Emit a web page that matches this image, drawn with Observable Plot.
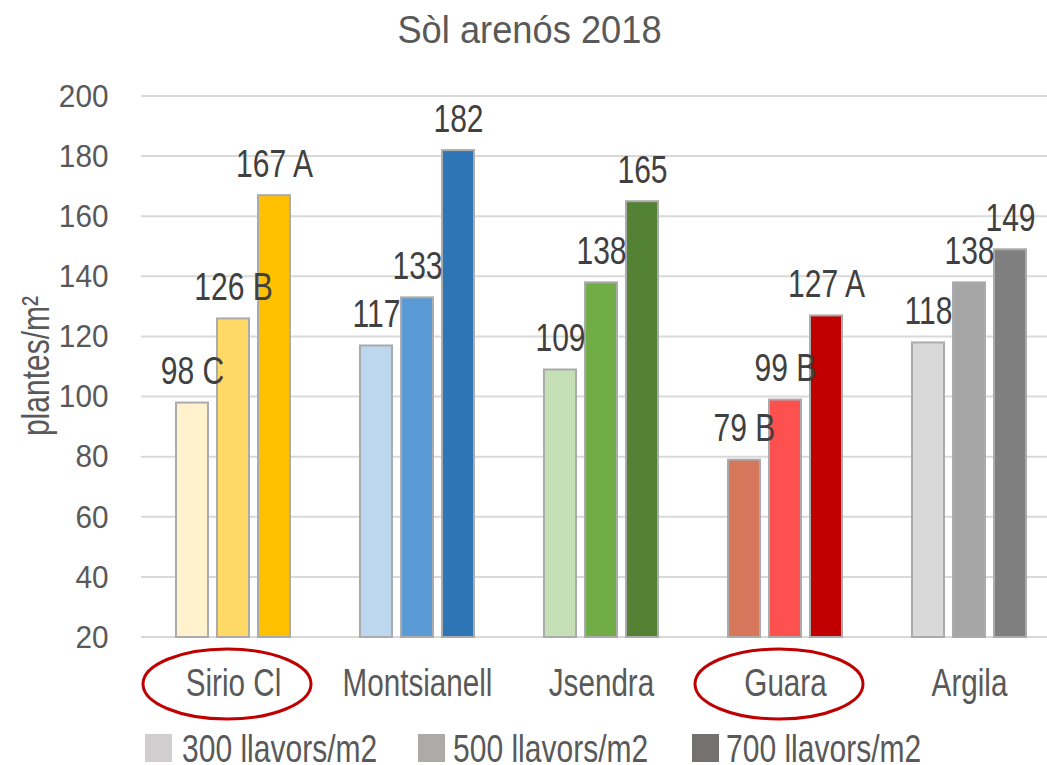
<!DOCTYPE html>
<html>
<head>
<meta charset="utf-8">
<script src="https://cdn.jsdelivr.net/npm/d3@7"></script>
<script src="https://cdn.jsdelivr.net/npm/@observablehq/plot@0.6"></script>
<style>
  html, body { margin: 0; padding: 0; background: #fff; }
  #wrap { position: relative; width: 1047px; height: 765px; overflow: hidden; font-family: "Liberation Sans", Arial, sans-serif; }
  #title { position: absolute; left: 6px; width: 1047px; top: 10px; text-align: center; font-size: 39px; color: #595959; line-height: 39px; transform: scaleX(0.93); transform-origin: center; white-space: nowrap; }
  #ylabel { position: absolute; left: 35px; top: 366px; font-size: 39px; line-height: 39px; color: #595959; white-space: nowrap; transform: translate(-50%, -50%) rotate(-90deg) scaleX(0.77); transform-origin: center; }
  #legend { position: absolute; top: 0; left: 0; width: 1047px; height: 765px; }
  .sw { position: absolute; top: 734px; width: 27px; height: 28px; }
  .lt { position: absolute; top: 729px; font-size: 39px; line-height: 39px; color: #595959; white-space: nowrap; transform: scaleX(0.77); transform-origin: left center; }
  #chart { position: absolute; left: 0; top: 0; }
</style>
</head>
<body>
<div id="wrap">
  <div id="chart"></div>
  <div id="title"></div>
  <div id="ylabel"></div>
  <div id="legend"></div>
</div>
<script>
const chartTitle = "Sòl arenós 2018";
const yLabel = "plantes/m²";
const varieties = ["Sirio Cl", "Montsianell", "Jsendra", "Guara", "Argila"];
const densities = ["300", "500", "700"];
const legendLabels = ["300 llavors/m2", "500 llavors/m2", "700 llavors/m2"];
const values300 = [98, 117, 109, 79, 118];
const values500 = [126, 133, 138, 99, 138];
const values700 = [167, 182, 165, 127, 149];
const letters300 = ["C", "", "", "B", ""];
const letters500 = ["B", "", "", "B", ""];
const letters700 = ["A", "", "", "A", ""];
const yTicks = [20, 40, 60, 80, 100, 120, 140, 160, 180, 200];
const highlighted = ["Sirio Cl", "Guara"];

// styles
const palette = {
  "Sirio Cl":    ["#FFF2CC", "#FFD966", "#FFC000"],
  "Montsianell": ["#BDD7EE", "#5B9BD5", "#2E75B6"],
  "Jsendra":     ["#C5E0B4", "#70AD47", "#548235"],
  "Guara":       ["#D6775C", "#FF5050", "#C00000"],
  "Argila":      ["#D9D9D9", "#A6A6A6", "#7F7F7F"]
};
const legendColors = ["#D0CECE", "#AEAAAA", "#767171"];
const FONT = '"Liberation Sans", Arial, sans-serif';

const seriesVals = [values300, values500, values700];
const seriesLetters = [letters300, letters500, letters700];
const rows = [];
varieties.forEach((v, i) => {
  densities.forEach((d, j) => {
    const val = seriesVals[j][i];
    const lt = seriesLetters[j][i];
    rows.push({variety: v, density: d, value: val, label: lt ? `${val} ${lt}` : `${val}`, color: palette[v][j]});
  });
});

document.getElementById("title").textContent = chartTitle;
document.getElementById("ylabel").textContent = yLabel;

const chart = Plot.plot({
  width: 1047,
  height: 765,
  marginTop: 96,
  marginBottom: 128,
  marginLeft: 141,
  marginRight: 0,
  style: {fontFamily: FONT, background: "transparent", overflow: "visible"},
  fx: {domain: varieties, range: [141, 1061], paddingInner: 0.38, paddingOuter: 0.19, label: null},
  x: {domain: densities, paddingInner: 0.22, paddingOuter: 0, axis: null},
  y: {domain: [20, 200], label: null},
  marks: [
    Plot.axisY(yTicks, {tickSize: 0, tickPadding: 68, fontSize: 32, fill: "#595959", label: null}),
    Plot.axisFx({anchor: "bottom", tickSize: 0, tickPadding: 32, fontSize: 38, fill: "#595959", label: null}),
    Plot.barY(rows, {fx: "variety", x: "density", y1: 20, y2: "value", fill: "color", stroke: "#ABABAB", strokeWidth: 2}),
    Plot.text(rows, {fx: "variety", x: "density", y: "value", text: "label", lineAnchor: "bottom", dy: -19, fontSize: 39, fill: "#404040"})
  ]
});
document.getElementById("chart").appendChild(chart);

const svg = d3.select(chart);
const yS = chart.scale("y");

// gridlines spanning the whole plot area, from the y scale
const grid = svg.insert("g", ":first-child").attr("aria-label", "grid");
yTicks.forEach(t => {
  grid.append("line")
    .attr("x1", 141).attr("x2", 1047)
    .attr("y1", yS.apply(t)).attr("y2", yS.apply(t))
    .attr("stroke", "#D9D9D9").attr("stroke-width", 2);
});

// condense texts horizontally (narrow font look), keeping anchor positions
function squeeze(sel, k) {
  sel.each(function () {
    const t = this.getAttribute("transform") || "";
    const xa = this.getAttribute("x");
    const x = xa !== null && /^-?[\d.]+$/.test(xa) ? +xa : 0;
    this.setAttribute("transform", `${t} translate(${x},0) scale(${k},1) translate(${-x},0)`);
  });
}
squeeze(svg.selectAll('g[aria-label="text"] text'), 0.77);
squeeze(svg.selectAll('g[aria-label="fx-axis tick label"] text'), 0.78);
squeeze(svg.selectAll('g[aria-label="y-axis tick label"] text'), 0.93);

// ellipses around highlighted categories, positioned from the fx scale
const fx = chart.scale("fx");
const bw = fx.bandwidth;
highlighted.forEach(v => {
  const cx = fx.apply(v) + bw / 2;
  svg.append("ellipse")
    .attr("cx", cx - 6).attr("cy", 684)
    .attr("rx", 84).attr("ry", 35)
    .attr("fill", "none").attr("stroke", "#C00000").attr("stroke-width", 3);
});

// legend
const legend = document.getElementById("legend");
const swX = [145, 418, 692];
const txX = [182, 453, 726];
legendLabels.forEach((t, i) => {
  const s = document.createElement("div");
  s.className = "sw";
  s.style.left = swX[i] + "px";
  s.style.background = legendColors[i];
  legend.appendChild(s);
  const l = document.createElement("div");
  l.className = "lt";
  l.style.left = txX[i] + "px";
  l.textContent = t;
  legend.appendChild(l);
});
</script>
</body>
</html>
